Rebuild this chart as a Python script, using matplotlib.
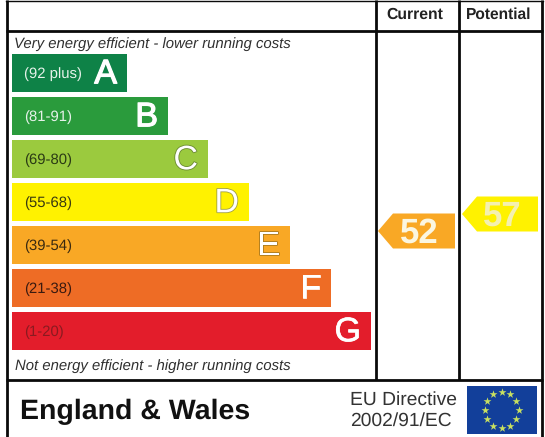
import matplotlib.patheffects as pe
import matplotlib.pyplot as plt
import numpy as np
from matplotlib.patches import Polygon, Rectangle

plt.rcParams['font.family'] = ['Liberation Sans', 'DejaVu Sans']
plt.rcParams['text.hinting'] = 'no_hinting'

bands = ['A', 'B', 'C', 'D', 'E', 'F', 'G']
ranges = ['(92 plus)', '(81-91)', '(69-80)', '(55-68)', '(39-54)', '(21-38)', '(1-20)']
bar_ends = [127, 168, 208, 249, 290, 331, 371]
colors = ['#0e8247', '#2a9b3c', '#9bca3e', '#fff200', '#f9a825', '#ee6c25', '#e31d2b']
range_colors = ['#e6f2ea', '#e6f2ea', '#2a3a14', '#3a3a10', '#3a2a10', '#3a1a10', '#8a1a20']
letter_edges = ['white', 'white', '#6a8a30', '#a0a040', '#a87a20', 'white', 'white']
letter_strokes = [0.9, 0.9, 1.2, 1.2, 1.2, 0.5, 0.5]

headers = ['Current', 'Potential']
ratings = [52, 57]
rating_colors = ['#f9a825', '#fff200']
rating_edges = [393, 477]
rating_rights = [455, 538]

top_text = 'Very energy efficient - lower running costs'
bottom_text = 'Not energy efficient - higher running costs'
region = 'England & Wales'
directive = ['EU Directive', '2002/91/EC']

fig = plt.figure(figsize=(5.45, 4.37), dpi=100)
ax = fig.add_axes([0, 0, 1, 1])
ax.set_xlim(0, 545)
ax.set_ylim(437, 0)
ax.axis('off')

# frame and table lines
line = dict(color='#0a0a0a', lw=2.0, solid_capstyle='butt')
ax.plot([6.5, 6.5], [0, 437], **line)
ax.plot([542, 542], [0, 437], **line)
ax.plot([6, 543], [0.5, 0.5], color='#0a0a0a', lw=1.0)
ax.plot([6, 543], [31, 31], **line)
ax.plot([6, 543], [380, 380], **line)
ax.plot([375.5, 375.5], [0, 380], **line)
ax.plot([458.5, 458.5], [0, 380], **line)

ax.text(415, 15, headers[0], ha='center', va='center', fontsize=11.3, fontweight='bold', color='#222222')
ax.text(499, 15, headers[1], ha='center', va='center', fontsize=11.2, fontweight='bold', color='#222222')

ax.text(14, 44.5, top_text, ha='left', va='center', fontsize=10.7, style='italic', color='#303030')
ax.text(15, 366, bottom_text, ha='left', va='center', fontsize=10.7, style='italic', color='#303030')

for i, band in enumerate(bands):
    top = 54 + 43 * i
    ax.add_patch(Rectangle((12, top), bar_ends[i] - 12, 37.5, fc=colors[i], ec='none'))
    ax.text(24, top + 20, ranges[i], ha='left', va='center', fontsize=10.7, color=range_colors[i])
    t = ax.text(bar_ends[i] - 10, top + 20.5, band, ha='right', va='center', fontsize=24.5, color='white')
    t.set_path_effects([pe.withStroke(linewidth=letter_strokes[i], foreground=letter_edges[i])])

# rating arrows, 52 sits at y=231 and each point is 3.4 px up the scale
for rating, color, edge, right in zip(ratings, rating_colors, rating_edges, rating_rights):
    yc = 231 - (rating - 52) * 3.4
    ax.add_patch(Polygon([(edge - 15, yc), (edge, yc - 17.5), (right, yc - 17.5), (right, yc + 17.5), (edge, yc + 17.5)],
                         closed=True, fc=color, ec='none'))
    ax.text((edge + right) / 2 - 5, yc + 2.5, str(rating), ha='center', va='center', fontsize=25, fontweight='bold',
            color='#fbf6e0' if rating == 52 else '#f4f0b0')

ax.text(20, 411.5, region, ha='left', va='center', fontsize=20.5, fontweight='bold', color='#111111')
ax.text(350, 400, directive[0], ha='left', va='center', fontsize=13.9, color='#333333')
ax.text(350, 421, directive[1], ha='left', va='center', fontsize=13.9, color='#333333')

# EU flag
ax.add_patch(Rectangle((467, 386), 70, 48, fc='#123f9a', ec='none'))
angles = np.deg2rad(np.arange(0, 360, 30))
ax.scatter(501.5 + 17 * np.cos(angles), 410 + 18 * np.sin(angles), marker='*', s=36, c='#c8e060', linewidths=0, zorder=3)

plt.savefig('out.png', dpi=100)
